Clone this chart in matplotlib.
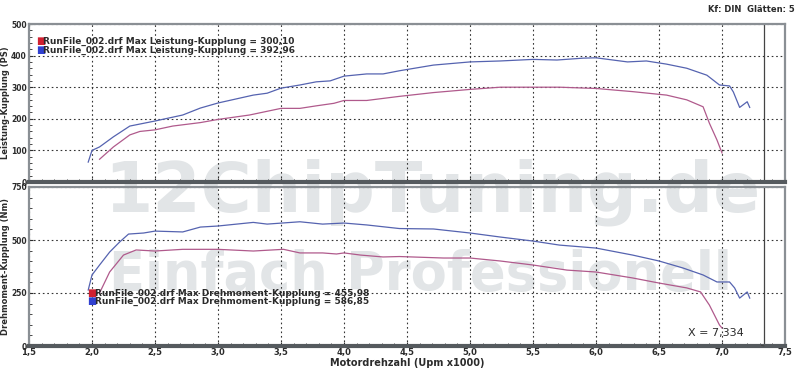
import numpy as np
import matplotlib.pyplot as plt
from matplotlib.ticker import MultipleLocator, FuncFormatter

# ---- data ----
rpm_blue_p = [1.97, 2.0, 2.06, 2.17, 2.30, 2.5, 2.72, 2.86, 3.0, 3.28, 3.39, 3.5, 3.65, 3.78,
              3.89, 4.0, 4.18, 4.31, 4.44, 4.71, 5.0, 5.24, 5.5, 5.69, 5.9, 6.0, 6.25, 6.4,
              6.56, 6.72, 6.88, 6.98, 7.06, 7.09, 7.14, 7.2, 7.22]
power_blue = [63, 100, 111, 143, 177, 193, 212, 234, 250, 275, 281, 297, 307, 317,
              320, 335, 342, 342, 352, 370, 380, 383, 388, 386, 392, 393, 380, 383,
              373, 360, 338, 307, 304, 285, 236, 254, 236]

rpm_red_p = [2.06, 2.17, 2.30, 2.38, 2.5, 2.64, 2.86, 3.0, 3.25, 3.5, 3.65, 3.78, 3.92, 4.0,
             4.18, 4.44, 4.71, 5.0, 5.24, 5.5, 5.71, 6.0, 6.29, 6.56, 6.72, 6.85, 6.9,
             6.96, 7.0]
power_red = [72, 111, 149, 160, 165, 177, 188, 198, 212, 233, 233, 241, 249, 258,
             258, 271, 283, 293, 300, 300, 300, 296, 286, 275, 260, 238, 186,
             133, 92]

rpm_blue_t = [1.97, 2.0, 2.06, 2.14, 2.22, 2.29, 2.41, 2.5, 2.72, 2.86, 3.0, 3.28, 3.39, 3.65,
              3.83, 4.0, 4.18, 4.44, 4.71, 5.0, 5.24, 5.5, 5.71, 6.0, 6.29, 6.5, 6.69,
              6.85, 6.96, 7.06, 7.1, 7.14, 7.2, 7.22]
torque_blue = [264, 335, 382, 443, 491, 528, 533, 542, 538, 561, 566, 583, 575, 586,
               575, 580, 571, 554, 552, 533, 514, 495, 476, 462, 429, 401, 368,
               335, 302, 302, 274, 226, 255, 226]

rpm_red_t = [2.06, 2.14, 2.25, 2.35, 2.5, 2.72, 3.0, 3.28, 3.52, 3.65, 3.83, 3.94, 4.0, 4.13,
             4.31, 4.44, 4.79, 5.0, 5.24, 5.5, 5.77, 6.0, 6.29, 6.5, 6.72, 6.83, 6.9,
             6.98, 7.0]
torque_red = [250, 349, 429, 453, 448, 456, 456, 448, 456, 439, 439, 434, 439, 429,
              420, 422, 415, 415, 401, 382, 358, 349, 321, 297, 274, 255, 193,
              99, 85]

legend_power = ["RunFile_002.drf Max Leistung-Kupplung = 300,10",
                "RunFile_002.drf Max Leistung-Kupplung = 392,96"]
legend_torque = ["RunFile_002.drf Max Drehmoment-Kupplung = 455,98",
                 "RunFile_002.drf Max Drehmoment-Kupplung = 586,85"]
cursor_x = 7.334

RED = "#b05a8c"
BLUE = "#5563b0"
FRAME = "#8a8f94"
TXT = "#2b2b2b"
WM = "#e2e5e7"

fig = plt.figure(figsize=(8.0, 3.77), dpi=100)
fig.patch.set_facecolor("white")

# watermark behind the axes
fig.text(0.54, 0.49, "12ChipTuning.de", fontsize=50, fontweight="bold",
         color=WM, ha="center", va="center", zorder=-2)
fig.text(0.525, 0.27, "Einfach Professionell", fontsize=38, fontweight="bold",
         color=WM, ha="center", va="center", zorder=-2)

ax1 = fig.add_axes([29 / 800, (377 - 182) / 377, 756 / 800, 158 / 377])
ax2 = fig.add_axes([29 / 800, (377 - 346) / 377, 756 / 800, 159 / 377])

comma = FuncFormatter(lambda v, p: f"{v:.1f}".replace(".", ","))

for ax in (ax1, ax2):
    ax.set_facecolor("none")
    ax.set_xlim(1.5, 7.5)
    ax.xaxis.set_major_locator(MultipleLocator(0.5))
    ax.xaxis.set_minor_locator(MultipleLocator(0.1))
    ax.grid(True, which="major", linestyle=(0, (1.5, 2.5)), color="#333333", linewidth=0.8)
    for side in ("top", "right", "left"):
        ax.spines[side].set_color(FRAME)
        ax.spines[side].set_linewidth(1.6)
    ax.spines["bottom"].set_color("#555a5e")
    ax.spines["bottom"].set_linewidth(3)
    ax.tick_params(axis="both", which="both", labelsize=6, colors=TXT, direction="in",
                   length=3, pad=1.5)
    ax.tick_params(axis="y", labelsize=5.5)
    ax.tick_params(axis="both", which="minor", length=2)
    ax.axvline(cursor_x, color="#444444", linewidth=0.9)

# power panel
ax1.plot(rpm_red_p, power_red, color=RED, linewidth=0.9)
ax1.plot(rpm_blue_p, power_blue, color=BLUE, linewidth=0.9)
ax1.set_ylim(0, 500)
ax1.yaxis.set_major_locator(MultipleLocator(100))
ax1.yaxis.set_minor_locator(MultipleLocator(20))
ax1.set_xticklabels([])
ax1.set_ylabel("Leistung-Kupplung (PS)", fontsize=6, fontweight="bold", color=TXT, va="center")
for i, (txt, col) in enumerate(zip(legend_power, ["#d02030", "#3040d0"])):
    y = 0.89 - i * 0.055
    ax1.text(0.009, y, "\u25a0", transform=ax1.transAxes, color=col, fontsize=7,
             va="center", ha="left")
    ax1.text(0.019, y, txt, transform=ax1.transAxes, color=TXT, fontsize=6.5,
             fontweight="bold", va="center", ha="left")

# torque panel
ax2.plot(rpm_red_t, torque_red, color=RED, linewidth=0.9)
ax2.plot(rpm_blue_t, torque_blue, color=BLUE, linewidth=0.9)
ax2.set_ylim(0, 750)
ax2.yaxis.set_major_locator(MultipleLocator(250))
ax2.yaxis.set_minor_locator(MultipleLocator(50))
ax2.xaxis.set_major_formatter(comma)
ax2.set_ylabel("Drehmoment-Kupplung (Nm)", fontsize=6, fontweight="bold", color=TXT, va="center")
ax2.set_xlabel("Motordrehzahl (Upm x1000)", fontsize=7, fontweight="bold", color=TXT, labelpad=1)
for ax in (ax1, ax2):
    ax.yaxis.set_label_coords(-0.0315, 0.5)
    for lbl in ax.get_yticklabels() + ax.get_xticklabels():
        lbl.set_fontweight("bold")
for i, (txt, col) in enumerate(zip(legend_torque, ["#d02030", "#3040d0"])):
    y = 250 - i * 40
    ax2.text(1.96, y, "\u25a0", color=col, fontsize=7, va="center", ha="left")
    ax2.text(2.02, y, txt, color=TXT, fontsize=6.5, fontweight="bold", va="center", ha="left")

ax2.annotate(f"X = {cursor_x:.3f}".replace(".", ","), xy=(cursor_x, 0), xytext=(6.95, 60),
             fontsize=8, color=TXT, ha="center", va="center",
             arrowprops=dict(arrowstyle="-", color="#444444", linewidth=0.8,
                             shrinkA=12, shrinkB=0))

fig.text(0.993, 0.988, "Kf: DIN  Glätten: 5", fontsize=6, fontweight="bold",
         color=TXT, ha="right", va="top")

fig.savefig("out.png", dpi=100)
